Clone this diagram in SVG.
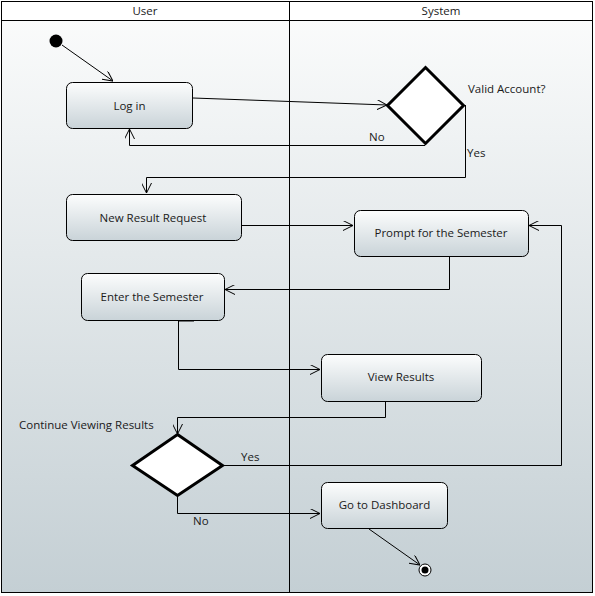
<svg xmlns="http://www.w3.org/2000/svg" width="595" height="596" viewBox="0 0 595 596">
<defs>
<linearGradient id="bg" x1="0" y1="0" x2="0" y2="1">
<stop offset="0" stop-color="#fafbfb"/>
<stop offset="1" stop-color="#c4cfd4"/>
</linearGradient>
<linearGradient id="nodeg" x1="0" y1="0" x2="0" y2="1">
<stop offset="0" stop-color="#fcfdfd"/>
<stop offset="1" stop-color="#c9d3d8"/>
</linearGradient>
<marker id="arr" viewBox="0 0 10 10" refX="10" refY="5" markerWidth="10" markerHeight="10" markerUnits="userSpaceOnUse" orient="auto">
<path d="M0,0 L10,5 L0,10" fill="none" stroke="#000" stroke-width="1"/>
</marker>
<style>
text{font-family:"Open Sans","Noto Sans","Liberation Sans",sans-serif;font-size:11.5px;fill:#1a1a1a}
.lbl{text-anchor:middle}
.act{fill:url(#nodeg);stroke:#000;stroke-width:1}
.dec{fill:#fff;stroke:#000;stroke-width:3}
.conn{fill:none;stroke:#000;stroke-width:1}
</style>
</defs>
<g id="frame">
<rect x="1.5" y="20.5" width="591" height="572" fill="url(#bg)"/>
<rect x="1.5" y="1.5" width="591" height="19" fill="#fff" stroke="#000"/>
<rect x="1.5" y="1.5" width="591" height="591" fill="none" stroke="#000"/>
<line x1="289.5" y1="1.5" x2="289.5" y2="592.5" stroke="#000"/>
<text class="lbl" x="145" y="15">User</text>
<text class="lbl" x="441" y="15">System</text>
</g>
<g id="connectors">
<line class="conn" x1="62" y1="45" x2="113" y2="81" marker-end="url(#arr)"/>
<polyline class="conn" points="193,98 387,105" marker-end="url(#arr)"/>
<polyline class="conn" points="425,145.5 129.5,145.5 129.5,129" marker-end="url(#arr)"/>
<polyline class="conn" points="465.5,105 465.5,177.5 146.5,177.5 146.5,193" marker-end="url(#arr)"/>
<polyline class="conn" points="242,225.5 353,225.5" marker-end="url(#arr)"/>
<polyline class="conn" points="449.5,257 449.5,289.5 225,289.5" marker-end="url(#arr)"/>
<polyline class="conn" points="178.5,321 178.5,369.5 320,369.5" marker-end="url(#arr)"/>
<line x1="178" y1="320.5" x2="194" y2="320.5" stroke="#000" stroke-width="2"/>
<polyline class="conn" points="385.5,402 385.5,417.5 177.5,417.5 177.5,434" marker-end="url(#arr)"/>
<polyline class="conn" points="223,465.5 561.5,465.5 561.5,225.5 529,225.5" marker-end="url(#arr)"/>
<polyline class="conn" points="177.5,496 177.5,513.5 320,513.5" marker-end="url(#arr)"/>
<line class="conn" x1="369" y1="529" x2="420" y2="565" marker-end="url(#arr)"/>
<text x="369" y="141">No</text>
<text x="467" y="157">Yes</text>
<text x="241" y="461">Yes</text>
<text x="193" y="525">No</text>
</g>
<g id="start"><circle cx="56" cy="41" r="6.5" fill="#000"/></g>
<g id="login"><rect class="act" x="66.5" y="82.5" width="126" height="46" rx="6"/><text class="lbl" x="129.5" y="109.5">Log in</text></g>
<g id="valid"><polygon class="dec" points="425.5,67.5 463.5,105.5 425.5,143.5 387.5,105.5"/><text x="468" y="93">Valid Account?</text></g>
<g id="newreq"><rect class="act" x="66.5" y="194.5" width="175" height="46" rx="6"/><text class="lbl" x="153" y="221.5">New Result Request</text></g>
<g id="prompt"><rect class="act" x="354.5" y="210.5" width="174" height="46" rx="6"/><text class="lbl" x="441" y="237">Prompt for the Semester</text></g>
<g id="enter"><rect class="act" x="81.5" y="273.5" width="143" height="47" rx="6"/><text class="lbl" x="152" y="301">Enter the Semester</text></g>
<g id="view"><rect class="act" x="321.5" y="354.5" width="160" height="47" rx="6"/><text class="lbl" x="401" y="381">View Results</text></g>
<g id="cont"><polygon class="dec" points="177.5,434.5 222.5,465.5 177.5,495.5 132.5,465.5"/><text x="19" y="429">Continue Viewing Results</text></g>
<g id="dash"><rect class="act" x="321.5" y="482.5" width="126" height="46" rx="6"/><text class="lbl" x="384.5" y="509">Go to Dashboard</text></g>
<g id="end"><circle cx="425" cy="570" r="6" fill="#fff" stroke="#000" stroke-width="1"/><circle cx="425" cy="570" r="3.5" fill="#000"/></g>
</svg>
